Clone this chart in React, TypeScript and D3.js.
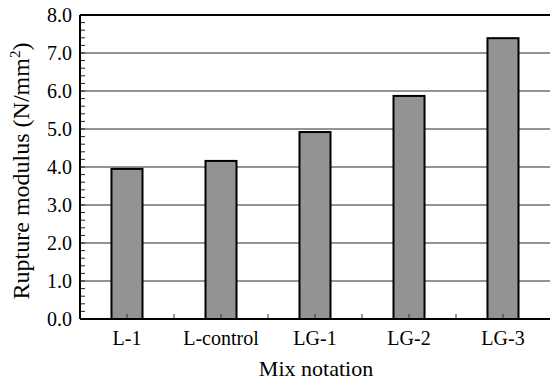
import { scaleBand, scaleLinear, range } from "d3";

const categories = ["L-1", "L-control", "LG-1", "LG-2", "LG-3"];
const values = [3.95, 4.16, 4.92, 5.87, 7.39];
const yTicks = [0, 1, 2, 3, 4, 5, 6, 7, 8];

const W = 550;
const H = 384;
const margin = { top: 15, right: 0, bottom: 65, left: 80 };
const font = '"Liberation Serif", "DejaVu Serif", serif';

export default function App() {
  const x = scaleBand<string>()
    .domain(categories)
    .range([margin.left, W - margin.right])
    .padding(0);
  const y = scaleLinear().domain([0, 8]).range([H - margin.bottom, margin.top]);

  const barW = x.bandwidth() * 0.33;
  const minor = range(0, 8.001, 0.2);
  const x0 = margin.left;
  const x1 = W - margin.right;
  const yb = y(0);
  const txt = { fontFamily: font, fill: "#000" } as React.CSSProperties;

  return (
    <svg
      width={W}
      height={H}
      style={{ position: "absolute", left: 0, top: 0, background: "#fff" }}
    >
      {/* grid lines */}
      {yTicks.slice(1, -1).map((t) => (
        <line key={t} x1={x0} x2={x1} y1={y(t)} y2={y(t)} stroke="#707070" strokeWidth={1.7} />
      ))}
      {/* minor y ticks */}
      {minor.map((t, i) => (
        <line key={i} x1={x0} x2={x0 + 5} y1={y(t)} y2={y(t)} stroke="#222" strokeWidth={1} />
      ))}
      {/* bars */}
      {categories.map((c, i) => (
        <rect
          key={c}
          x={x(c)! + x.bandwidth() / 2 - barW / 2}
          y={y(values[i])}
          width={barW}
          height={yb - y(values[i])}
          fill="#939393"
          stroke="#000"
          strokeWidth={2}
        />
      ))}
      {/* x ticks at bands and centers */}
      {categories.map((c, i) => (
        <g key={c}>
          <line x1={x(c)! + x.bandwidth() / 2} x2={x(c)! + x.bandwidth() / 2} y1={yb} y2={yb - 5} stroke="#333" strokeWidth={1} />
          {i > 0 && <line x1={x(c)!} x2={x(c)!} y1={yb} y2={yb - 5} stroke="#333" strokeWidth={1} />}
        </g>
      ))}
      {/* frame */}
      <line x1={x0} x2={x1} y1={margin.top} y2={margin.top} stroke="#000" strokeWidth={2} />
      <line x1={x0} x2={x1} y1={yb} y2={yb} stroke="#000" strokeWidth={2} />
      <line x1={x0} x2={x0} y1={margin.top} y2={yb} stroke="#000" strokeWidth={2} />
      {/* y labels */}
      {yTicks.map((t) => (
        <text key={t} x={72} y={y(t)} dy="0.33em" textAnchor="end" style={{ ...txt, fontSize: 20 }}>
          {t.toFixed(1)}
        </text>
      ))}
      {/* x labels */}
      {categories.map((c) => (
        <text key={c} x={x(c)! + x.bandwidth() / 2} y={345} textAnchor="middle" style={{ ...txt, fontSize: 20 }}>
          {c}
        </text>
      ))}
      <text x={316} y={376} textAnchor="middle" style={{ ...txt, fontSize: 22 }}>
        Mix notation
      </text>
      <text
        transform={`translate(29,${(margin.top + yb) / 2 + 4}) rotate(-90)`}
        textAnchor="middle"
        style={{ ...txt, fontSize: 24 }}
      >
        Rupture modulus (N/mm<tspan dy="-9" style={{ fontSize: 15 }}>2</tspan><tspan dy="9">)</tspan>
      </text>
    </svg>
  );
}
